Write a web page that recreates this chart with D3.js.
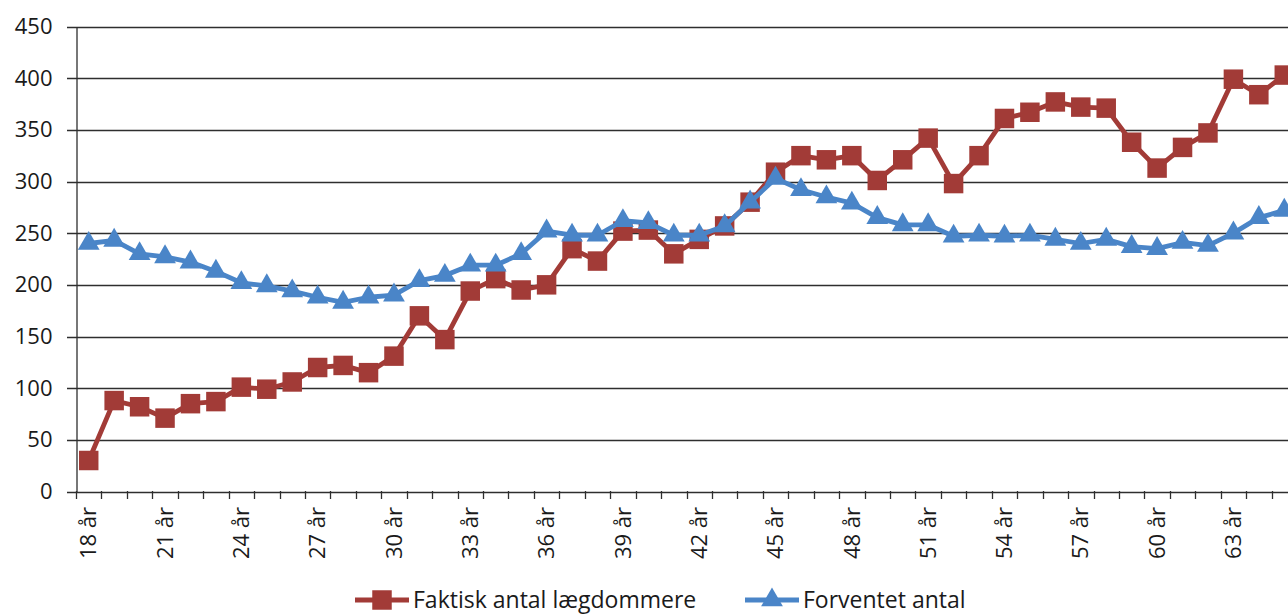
<!DOCTYPE html>
<html>
<head>
<meta charset="utf-8">
<script src="https://cdn.jsdelivr.net/npm/d3@7"></script>
<style>
  body { margin: 0; background: #fff; }
  text { font-family: "Open Sans", sans-serif; fill: #1a1a1a; }
</style>
</head>
<body>
<div id="chart"></div>
<script>
var categories = ["18 år","19 år","20 år","21 år","22 år","23 år","24 år","25 år","26 år","27 år","28 år","29 år",
  "30 år","31 år","32 år","33 år","34 år","35 år","36 år","37 år","38 år","39 år","40 år","41 år",
  "42 år","43 år","44 år","45 år","46 år","47 år","48 år","49 år","50 år","51 år","52 år","53 år",
  "54 år","55 år","56 år","57 år","58 år","59 år","60 år","61 år","62 år","63 år","64 år","65 år"];

var faktisk = [30, 88, 82, 71, 85, 87, 101, 99, 106, 120, 122, 115, 131, 170,
  147, 194, 206, 195, 200, 235, 223, 252, 253, 230, 244, 257, 280, 309, 325, 321, 325,
  301, 321, 342, 298, 325, 361, 367, 377, 372, 371, 338, 313, 333, 347, 399, 384, 403];

var forventet = [240, 243, 230, 227, 222, 213, 202, 199, 194, 188, 183, 188, 190, 204,
  209, 219, 219, 230, 252, 248, 248, 262, 260, 248, 248, 257, 280, 303, 292, 285, 279,
  265, 258, 258, 247, 248, 247, 248, 244, 240, 244, 237, 235, 241, 238, 250, 265, 272];

var yTicks = [0, 50, 100, 150, 200, 250, 300, 350, 400, 450];

var seriesNames = ["Faktisk antal lægdommere", "Forventet antal"];

var width = 1288,
    height = 615;

var red = "#a23b37",
    blue = "#4a85c8";

var svg = d3.select("#chart")
            .append("svg")
            .attr("width", width)
            .attr("height", height)

var x = d3.scaleBand().domain(categories).range([76, 1297])
var y = d3.scaleLinear().domain([0, 450]).range([491.5, 26.5])

// gridlines
svg.append("g")
   .selectAll("line")
   .data(yTicks)
   .enter().append("line")
   .attr("x1", 67)
   .attr("x2", width)
   .attr("y1", function(d) { return Math.round(y(d)) + 0.5 })
   .attr("y2", function(d) { return Math.round(y(d)) + 0.5 })
   .attr("stroke", "#2e2e2e")
   .attr("stroke-width", 1.3)

// y axis
var yAxis = svg.append("g")
   .attr("transform", "translate(76.5,0)")
   .call(d3.axisLeft(y).tickValues(yTicks).tickSize(0).tickPadding(24))
yAxis.select(".domain").attr("stroke", "#2e2e2e").attr("stroke-width", 1.3)
yAxis.selectAll("text")
   .style("font-size", "22px")
   .attr("fill", "#1a1a1a")

// x axis boundary ticks
var bounds = categories.map(function(d) { return x(d) })
bounds.push(x.range()[1])
svg.append("g")
   .selectAll("line")
   .data(bounds)
   .enter().append("line")
   .attr("x1", function(d) { return Math.round(d) + 0.5 })
   .attr("x2", function(d) { return Math.round(d) + 0.5 })
   .attr("y1", 491)
   .attr("y2", 499)
   .attr("stroke", "#2e2e2e")
   .attr("stroke-width", 1.3)

svg.append("g")
   .selectAll("text")
   .data(categories.filter(function(d, i) { return i % 3 == 0 }))
   .enter().append("text")
   .attr("transform", function(d) {
       return "translate(" + (x(d) + x.bandwidth() / 2) + ",507) rotate(-90)"
   })
   .attr("text-anchor", "end")
   .attr("dy", "0.35em")
   .style("font-size", "22px")
   .text(function(d) { return d })

var line = d3.line()
   .x(function(d, i) { return x(categories[i]) + x.bandwidth() / 2 })
   .y(function(d) { return y(d) })

var square = d3.symbol().type(d3.symbolSquare).size(380)
var triangle = d3.symbol().type(d3.symbolTriangle).size(205)

function drawSeries(values, color, shape, cls) {
    svg.append("path")
       .datum(values)
       .attr("fill", "none")
       .attr("stroke", color)
       .attr("stroke-width", 4.8)
       .attr("stroke-linejoin", "round")
       .attr("d", line)

    svg.selectAll("." + cls)
       .data(values)
       .enter().append("path")
       .attr("class", cls)
       .attr("d", shape)
       .attr("fill", color)
       .attr("transform", function(d, i) {
           return "translate(" + (x(categories[i]) + x.bandwidth() / 2) + "," + y(d) + ")"
       })
}

drawSeries(faktisk, red, square, "faktisk")
drawSeries(forventet, blue, triangle, "forventet")

// legend
var legend = [
    { name: seriesNames[0], color: red, shape: square, x: 355 },
    { name: seriesNames[1], color: blue, shape: triangle, x: 745 }
]

var lg = svg.selectAll(".legend")
   .data(legend)
   .enter().append("g")
   .attr("class", "legend")
   .attr("transform", function(d) { return "translate(" + d.x + ",600)" })

lg.append("line")
   .attr("x1", 0)
   .attr("x2", 54)
   .attr("stroke", function(d) { return d.color })
   .attr("stroke-width", 4.8)

lg.append("path")
   .attr("d", function(d) { return d.shape() })
   .attr("fill", function(d) { return d.color })
   .attr("transform", "translate(27,0)")

lg.append("text")
   .attr("x", 58)
   .attr("dy", "0.35em")
   .style("font-size", "23px")
   .text(function(d) { return d.name })
</script>
</body>
</html>
